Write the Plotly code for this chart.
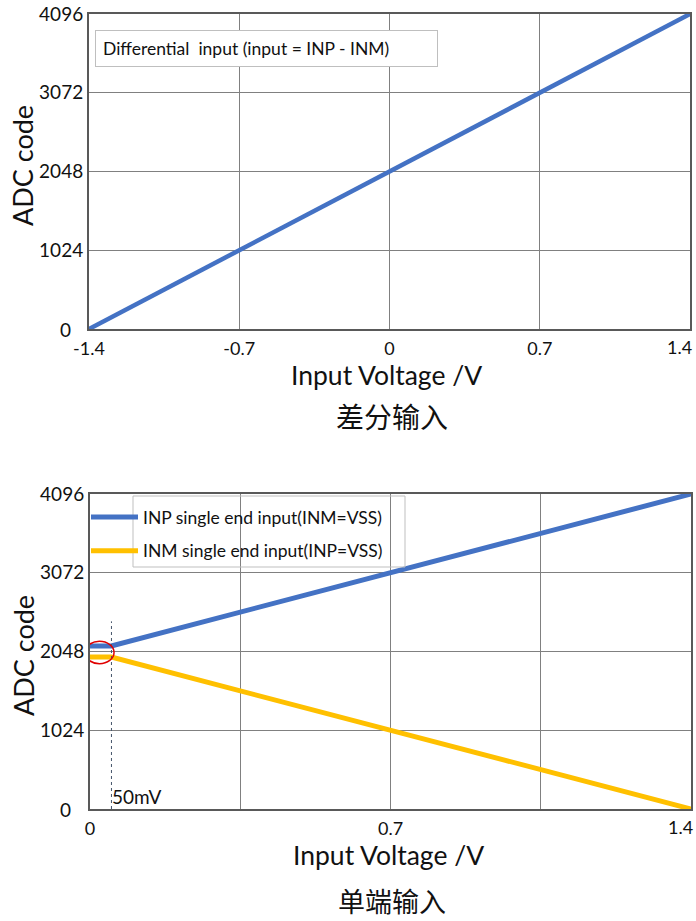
import plotly.graph_objects as go

# ---- data ----
diff_v = [-1.4, 1.4]
diff_code = [0, 4096]

se_v = [0.0, 0.05, 1.4]
inp_code = [2121, 2121, 4096]
inm_code = [1975, 1975, 0]

y_ticks = [0, 1024, 2048, 3072, 4096]
y_ticklabels = ["", "1024", "2048", "3072", "4096"]
y_zero_value = 0
y_zero_label = "0"
x_ticks_top = [-1.4, -0.7, 0, 0.7, 1.4]
x_ticklabels_top = ["-1.4", "-0.7", "0", "0.7", ""]
x_ticks_bot = [0, 0.35, 0.7, 1.05, 1.4]
x_ticklabels_bot = ["0", "", "0.7", "", ""]
x_end_value = 1.4
x_end_label = "1.4"

step_v = 0.05
marker_top = 2440
circle_x = [-0.012, 0.056]
circle_y = [1890, 2180]

W, H = 696, 921
L, R, T, B = 89, 5, 14, 112
PW, PH = W - L - R, H - T - B
FONT = "Lato"
BLUE = "#4472C4"
YELLOW = "#FFC000"
GRID = "#808080"
FRAME = "#595959"
TXT = "#111111"


def px_x(p):  # pixel x -> paper
    return (p - L) / PW


def px_y(p):  # pixel y -> paper
    return (H - B - p) / PH


fig = go.Figure()
fig.add_trace(go.Scatter(x=diff_v, y=diff_code, mode="lines",
                         line=dict(color=BLUE, width=4.5), showlegend=False,
                         xaxis="x", yaxis="y"))
fig.add_trace(go.Scatter(x=se_v, y=inp_code, mode="lines",
                         name="INP single end input(INM=VSS)", legendgroup="a",
                         line=dict(color=BLUE, width=5), xaxis="x2", yaxis="y2"))
fig.add_trace(go.Scatter(x=se_v, y=inm_code, mode="lines",
                         name="INM single end input(INP=VSS)", legendgroup="b",
                         line=dict(color=YELLOW, width=5), xaxis="x2", yaxis="y2"))


def xax(domain, ticks, labels, rng, anchor):
    return dict(domain=domain, range=rng, tickvals=ticks, ticktext=labels,
                showgrid=True, gridcolor=GRID, gridwidth=1, zeroline=False,
                showline=True, linecolor=FRAME, linewidth=2, mirror=True,
                ticks="", tickfont=dict(family=FONT, size=18, color=TXT),
                ticklabelstandoff=2, automargin=False,
                anchor=anchor, fixedrange=True)


def yax(domain, anchor):
    return dict(domain=domain, range=[0, 4096], tickvals=y_ticks, ticktext=y_ticklabels,
                showgrid=True, gridcolor=GRID, gridwidth=1, zeroline=False,
                showline=True, linecolor=FRAME, linewidth=2, mirror=True,
                ticks="", tickfont=dict(family=FONT, size=19, color=TXT),
                automargin=False, anchor=anchor, fixedrange=True)


fig.update_layout(
    width=W, height=H,
    margin=dict(l=L, r=R, t=T, b=B, autoexpand=False),
    paper_bgcolor="white", plot_bgcolor="white",
    xaxis=xax([px_x(89), px_x(690)], x_ticks_top, x_ticklabels_top, [-1.4, 1.4], "y"),
    yaxis=yax([px_y(329), px_y(14)], "x"),
    xaxis2=xax([px_x(90), px_x(691)], x_ticks_bot, x_ticklabels_bot, [0, 1.4], "y2"),
    yaxis2=yax([px_y(809), px_y(494)], "x2"),
    showlegend=True,
    legend=dict(x=px_x(86), y=px_y(499), xanchor="left", yanchor="top",
                bgcolor="rgba(0,0,0,0)", borderwidth=0,
                font=dict(family=FONT, size=17.5, color=TXT),
                tracegroupgap=8, itemwidth=47),
)

for xr, yr in (("x", "y"), ("x2", "y2")):
    # end-of-axis "1.4" labels, pulled inside the page edge as in the reference
    fig.add_annotation(xref=xr, yref=f"{yr} domain", x=x_end_value, y=0,
                       xanchor="right", yanchor="top", showarrow=False,
                       text=x_end_label, xshift=4, yshift=-5,
                       font=dict(family=FONT, size=18, color=TXT))
    # y "0" label sits further left than the other y labels in the reference
    fig.add_annotation(xref="paper", yref=yr, x=px_x(73), y=y_zero_value,
                       xanchor="right", yanchor="middle", showarrow=False,
                       text=y_zero_label, font=dict(family=FONT, size=19, color=TXT))

# legend frame (around the text only, as in the reference)
fig.add_shape(type="rect", xref="paper", yref="paper",
              x0=px_x(133), x1=px_x(405), y0=px_y(567), y1=px_y(496),
              line=dict(color="#BFBFBF", width=1), fillcolor="rgba(0,0,0,0)")

# axis titles
for yc in (166, 656):
    fig.add_annotation(xref="paper", yref="paper", x=px_x(23), y=px_y(yc),
                       xanchor="center", yanchor="middle", showarrow=False,
                       text="ADC code", textangle=-90,
                       font=dict(family=FONT, size=27, color=TXT))
for xc, yc in ((386, 375), (388, 855)):
    fig.add_annotation(xref="paper", yref="paper", x=px_x(xc), y=px_y(yc),
                       xanchor="center", yanchor="middle", showarrow=False,
                       text="Input Voltage /V",
                       font=dict(family=FONT, size=26.5, color=TXT))

# top chart text box
fig.add_annotation(xref="paper", yref="paper", x=px_x(95), y=px_y(30),
                   xanchor="left", yanchor="top", showarrow=False,
                   text="Differential  input (input = INP - INM)",
                   font=dict(family=FONT, size=17.5, color=TXT),
                   bordercolor="#BFBFBF", borderwidth=1, borderpad=7,
                   width=327, align="left", bgcolor="white")

# dashed marker line at 50 mV
fig.add_shape(type="line", xref="x2", yref="y2", x0=step_v, x1=step_v,
              y0=0, y1=marker_top, line=dict(color="#44546A", width=1, dash="dot"))
fig.add_annotation(xref="x2", yref="y2", x=step_v, y=0, xanchor="left", yanchor="bottom",
                   showarrow=False, text="50mV", yshift=-1, xshift=-1,
                   font=dict(family=FONT, size=19, color=TXT))
# red ellipse
fig.add_shape(type="circle", xref="x2", yref="y2", x0=circle_x[0], x1=circle_x[1],
              y0=circle_y[0], y1=circle_y[1], line=dict(color="#E00000", width=1.5))

# captions
fig.add_annotation(xref="paper", yref="paper", x=px_x(392), y=px_y(416),
                   xanchor="center", yanchor="middle", showarrow=False, text="差分输入",
                   font=dict(family="Noto Sans CJK SC", size=28, color=TXT))
fig.add_annotation(xref="paper", yref="paper", x=px_x(392), y=px_y(900),
                   xanchor="center", yanchor="middle", showarrow=False, text="单端输入",
                   font=dict(family="Noto Sans CJK SC", size=27, color=TXT))

fig.write_html("out.html", config={"displayModeBar": False},
               post_script="document.body.style.margin='0';document.body.style.overflow='hidden';")
